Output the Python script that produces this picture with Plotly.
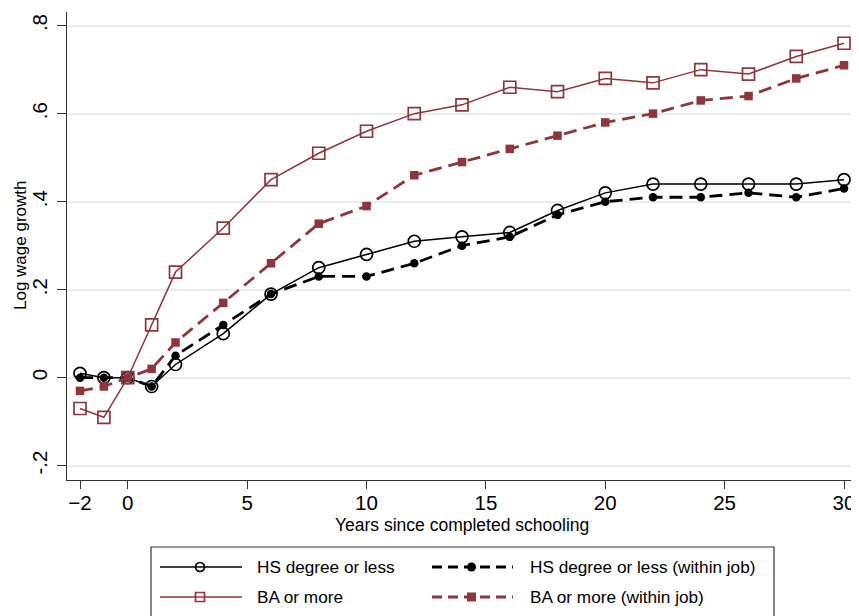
import plotly.graph_objects as go

years = [-2, -1, 0, 1, 2, 4, 6, 8, 10, 12, 14, 16, 18, 20, 22, 24, 26, 28, 30]
hs = [0.01, 0.00, 0.00, -0.02, 0.03, 0.10, 0.19, 0.25, 0.28, 0.31, 0.32, 0.33, 0.38, 0.42, 0.44, 0.44, 0.44, 0.44, 0.45]
hs_within = [0.00, 0.00, 0.00, -0.02, 0.05, 0.12, 0.19, 0.23, 0.23, 0.26, 0.30, 0.32, 0.37, 0.40, 0.41, 0.41, 0.42, 0.41, 0.43]
ba = [-0.07, -0.09, 0.00, 0.12, 0.24, 0.34, 0.45, 0.51, 0.56, 0.60, 0.62, 0.66, 0.65, 0.68, 0.67, 0.70, 0.69, 0.73, 0.76]
ba_within = [-0.03, -0.02, 0.00, 0.02, 0.08, 0.17, 0.26, 0.35, 0.39, 0.46, 0.49, 0.52, 0.55, 0.58, 0.60, 0.63, 0.64, 0.68, 0.71]

series_names = ["HS degree or less", "HS degree or less (within job)",
                "BA or more", "BA or more (within job)"]

x_ticks = [-2, 0, 5, 10, 15, 20, 25, 30]
y_ticks = [-0.2, 0, 0.2, 0.4, 0.6, 0.8]
y_tick_labels = ["-.2", "0", ".2", ".4", ".6", ".8"]

# The page body adds an 8px margin, so the figure is sized to fit the window.
OFF = 8
SW, SH = 859, 616
W, H = SW - OFF, SH - OFF
MAROON = "#90353b"
DASH = "13px,7px"
FONT = "Liberation Sans, Arial, sans-serif"

styles = [
    dict(line=dict(color="black", width=1.5),
         marker=dict(symbol="circle-open", size=12, color="black", line=dict(width=1.7, color="black"))),
    dict(line=dict(color="black", width=2.8, dash=DASH),
         marker=dict(symbol="circle", size=8.5, color="black")),
    dict(line=dict(color=MAROON, width=1.5),
         marker=dict(symbol="square-open", size=12, color=MAROON, line=dict(width=1.7, color=MAROON))),
    dict(line=dict(color=MAROON, width=2.8, dash=DASH),
         marker=dict(symbol="square", size=8.5, color=MAROON)),
]
data = [hs, hs_within, ba, ba_within]

fig = go.Figure()
for name, ys, st in zip(series_names, data, styles):
    fig.add_trace(go.Scatter(x=years, y=ys, mode="lines+markers", name=name,
                             line=st["line"], marker=st["marker"], showlegend=False,
                             cliponaxis=False))

# Manual legend drawn on an overlay axis in window-pixel units
leg_pos = [(160, 242, 567, 255), (432, 513, 567, 528), (160, 242, 597, 255), (432, 513, 597, 528)]
for name, st, (lx0, lx1, ly, tx) in zip(series_names, styles, leg_pos):
    ln = dict(st["line"])
    if "dash" in ln:
        ln["dash"] = "10px,6px"
    fig.add_trace(go.Scatter(x=[lx0, lx1], y=[ly, ly], mode="lines", line=ln,
                             xaxis="x2", yaxis="y2", showlegend=False, hoverinfo="skip"))
    mk = dict(st["marker"])
    mk["size"] = 9
    fig.add_trace(go.Scatter(x=[(lx0 + lx1) / 2 - 1], y=[ly], mode="markers", marker=mk,
                             xaxis="x2", yaxis="y2", showlegend=False, hoverinfo="skip"))
    fig.add_annotation(x=tx, y=ly, xref="x2", yref="y2", text=name, showarrow=False,
                       xanchor="left", yanchor="middle",
                       font=dict(size=17.2, family=FONT, color="black"))

fig.add_shape(type="rect", xref="x2", yref="y2", x0=151, x1=774, y0=547, y1=640,
              line=dict(color="#333", width=1.2), fillcolor="rgba(0,0,0,0)", layer="below")

fig.add_annotation(x=462, y=525, xref="x2", yref="y2",
                   text="Years since completed schooling", showarrow=False,
                   xanchor="center", yanchor="middle",
                   font=dict(size=17.5, family=FONT, color="black"))
fig.add_annotation(x=20, y=246, xref="x2", yref="y2",
                   text="Log wage growth", showarrow=False, textangle=-90,
                   xanchor="center", yanchor="middle",
                   font=dict(size=17, family=FONT, color="black"))

fig.update_layout(
    width=W, height=H, autosize=False,
    margin=dict(l=0, r=0, t=0, b=0, pad=0),
    paper_bgcolor="white", plot_bgcolor="rgba(0,0,0,0)",
    font=dict(family=FONT, color="black"),
    showlegend=False,
    xaxis=dict(domain=[(67 - OFF) / W, (858 - OFF) / W], range=[-2.545, 30.586], tickvals=x_ticks,
               showgrid=False, zeroline=False, automargin=False,
               showline=True, linecolor="#333", linewidth=1.2, ticks="outside", ticklen=8,
               tickcolor="#333", tickwidth=1.2, tickfont=dict(size=20.5), anchor="y",
               ticklabelstandoff=-4),
    yaxis=dict(domain=[1 - (480 - OFF) / H, 1 - (12 - OFF) / H], range=[-0.2325, 0.831], tickvals=y_ticks,
               ticktext=y_tick_labels, tickangle=-90, automargin=False,
               showgrid=True, gridcolor="#e6eef2", gridwidth=1.6, zeroline=False,
               showline=True, linecolor="#333", linewidth=1.2, ticks="outside", ticklen=9,
               tickcolor="#333", tickwidth=1.2, tickfont=dict(size=20.5), anchor="x",
               ticklabelstandoff=2),
    xaxis2=dict(domain=[0, 1], range=[OFF, SW], visible=False, fixedrange=True, anchor="y2"),
    yaxis2=dict(domain=[0, 1], range=[SH, OFF], visible=False, fixedrange=True, anchor="x2"),
)

fig.write_html("out.html")
